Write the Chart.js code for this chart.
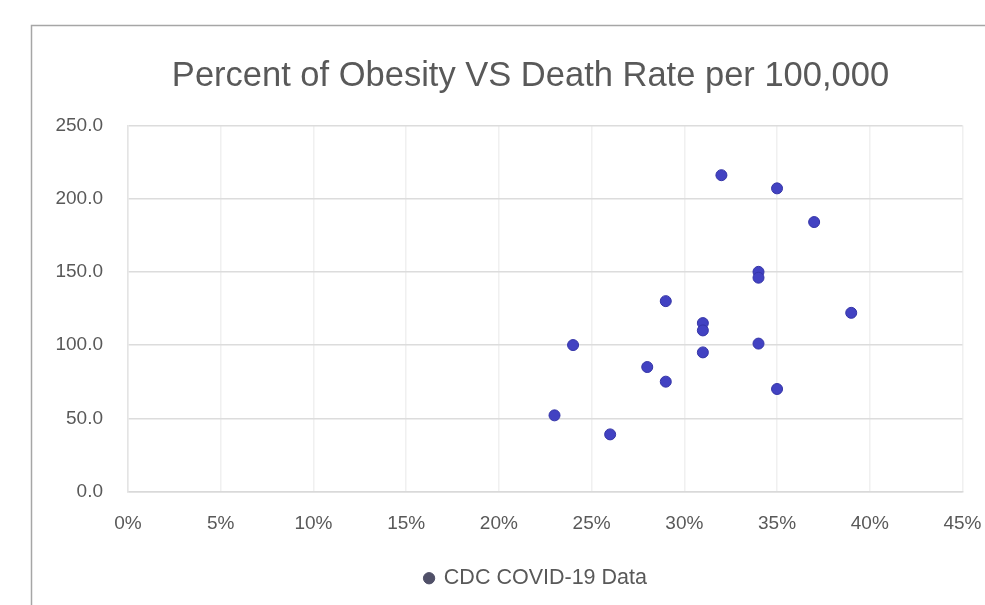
<!DOCTYPE html>
<html>
<head>
<meta charset="utf-8">
<script src="https://cdn.jsdelivr.net/npm/chart.js@4/dist/chart.umd.min.js"></script>
<style>
  html, body { margin: 0; padding: 0; background: #ffffff; }
  #wrap { position: relative; width: 985px; height: 605px; }
</style>
</head>
<body>
<div id="wrap"><canvas id="chart" width="985" height="605"></canvas></div>
<script>
// Obesity share (%) per state and COVID-19 deaths per 100,000
const obesityPct = [23, 24, 26, 28, 29, 29, 31, 31, 31, 32, 34, 34, 34, 35, 35, 37, 39];
const deathRate  = [52, 100, 39, 85, 130, 75, 115, 110, 95, 216, 150, 146, 101, 207, 70, 184, 122];
const seriesName = 'CDC COVID-19 Data';
const chartTitle = 'Percent of Obesity VS Death Rate per 100,000';
const xTicks = [0, 5, 10, 15, 20, 25, 30, 35, 40, 45];
const yTicks = [0, 50, 100, 150, 200, 250];

const points = obesityPct.map((x, i) => ({ x: x, y: deathRate[i] }));

const FONT = "'Liberation Sans', Arial, sans-serif";
const TEXT = '#595959';

// thin frame around the chart object
const framePlugin = {
  id: 'frame',
  beforeDraw(chart) {
    const ctx = chart.ctx;
    ctx.save();
    ctx.fillStyle = '#ffffff';
    ctx.fillRect(0, 0, chart.width, chart.height);
    ctx.strokeStyle = '#a6a6a6';
    ctx.lineWidth = 1.5;
    ctx.beginPath();
    ctx.moveTo(31.5, chart.height);
    ctx.lineTo(31.5, 25.5);
    ctx.lineTo(chart.width, 25.5);
    ctx.stroke();
    ctx.restore();
  }
};

// centre title and legend over the framed area rather than the whole canvas
const centreBlocksPlugin = {
  id: 'centreBlocks',
  afterLayout(chart) {
    if (chart.titleBlock) chart.titleBlock.left += 36;
    if (chart.legend) chart.legend.left += 47;
  }
};

new Chart(document.getElementById('chart'), {
  type: 'scatter',
  data: {
    datasets: [{
      label: seriesName,
      data: points,
      backgroundColor: '#4242c2',
      borderColor: '#3535a8',
      borderWidth: 1,
      pointRadius: 5.5,
      pointHoverRadius: 5.5
    }]
  },
  options: {
    responsive: false,
    animation: false,
    devicePixelRatio: 1,
    layout: { padding: { left: 40, right: 0, top: 0, bottom: 6 } },
    plugins: {
      title: {
        display: true,
        text: chartTitle,
        color: TEXT,
        font: { family: FONT, size: 34.5, weight: 'normal', lineHeight: 1.2 },
        padding: { top: 56, bottom: 28 }
      },
      legend: {
        display: true,
        position: 'bottom',
        labels: {
          color: TEXT,
          font: { family: FONT, size: 21.5 },
          usePointStyle: true,
          pointStyle: 'circle',
          boxWidth: 8,
          boxHeight: 8,
          padding: 10,
          generateLabels(chart) {
            const items = Chart.defaults.plugins.legend.labels.generateLabels(chart);
            items.forEach(it => { it.fillStyle = '#505068'; it.strokeStyle = '#505068'; });
            return items;
          }
        }
      },
      tooltip: { enabled: false }
    },
    scales: {
      x: {
        type: 'linear',
        min: 0,
        max: 45,
        afterBuildTicks(scale) { scale.ticks = xTicks.map(v => ({ value: v })); },
        afterFit(scale) { scale.height = 66; },
        grid: { color: '#f0f0f0', lineWidth: 1.5, drawTicks: true, tickLength: 17, tickColor: 'rgba(0,0,0,0)' },
        border: { color: '#d9d9d9', width: 1.5 },
        ticks: {
          color: TEXT,
          font: { family: FONT, size: 19 },
          padding: 3.5,
          maxRotation: 0,
          callback: v => v + '%'
        }
      },
      y: {
        type: 'linear',
        min: 0,
        max: 250,
        afterBuildTicks(scale) { scale.ticks = yTicks.map(v => ({ value: v })); },
        afterFit(scale) { scale.width = 88; },
        grid: { color: '#dcdcdc', lineWidth: 1.5, drawTicks: false },
        border: { color: '#e4e4e4', width: 1.5 },
        ticks: {
          color: TEXT,
          font: { family: FONT, size: 19 },
          padding: 25,
          callback: v => Number(v).toFixed(1)
        }
      }
    }
  },
  plugins: [framePlugin, centreBlocksPlugin]
});
</script>
</body>
</html>
